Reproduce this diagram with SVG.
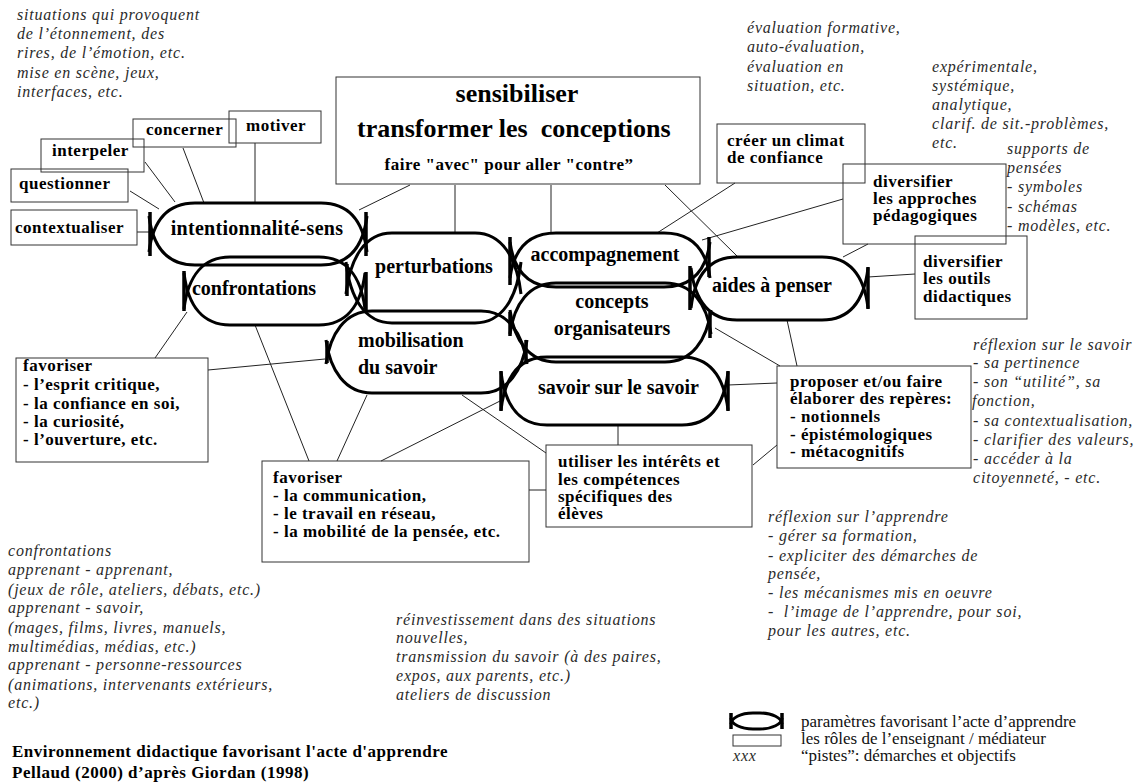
<svg xmlns="http://www.w3.org/2000/svg" width="1142" height="783" viewBox="0 0 1142 783">
<style>
.box{fill:none;stroke:#333;stroke-width:1}
.ln{fill:none;stroke:#222;stroke-width:1}
.fish{fill:none;stroke:#000;stroke-width:3}
.bar{fill:none;stroke:#000;stroke-width:3.5}
.b{font-family:"Liberation Serif","Times New Roman",serif;font-weight:bold;font-size:17px;letter-spacing:0.5px;fill:#000}
.fl{font-family:"Liberation Serif","Times New Roman",serif;font-weight:bold;font-size:20px;fill:#000}
.big{font-family:"Liberation Serif","Times New Roman",serif;font-weight:bold;font-size:26px;fill:#000}
.it{font-family:"Liberation Serif","Times New Roman",serif;font-style:italic;font-size:16px;letter-spacing:0.8px;fill:#2a2a2a}
.lg{font-family:"Liberation Serif","Times New Roman",serif;font-size:17px;fill:#111}
.pre{white-space:pre}
</style>
<rect width="1142" height="783" fill="#fff"/>

<g id="connectors">
<path class="ln" d="M255,143V203"/>
<path class="ln" d="M183,148L204,203"/>
<path class="ln" d="M145,162L175,202"/>
<path class="ln" d="M130,191L159,209"/>
<path class="ln" d="M137,232H150"/>
<path class="ln" d="M410,185L359,210"/>
<path class="ln" d="M455,185V233"/>
<path class="ln" d="M551,185V233"/>
<path class="ln" d="M665,185L738,257"/>
<path class="ln" d="M735,183L657,233"/>
<path class="ln" d="M843,199L702,240"/>
<path class="ln" d="M868,244L843,257"/>
<path class="ln" d="M915,274L868,277"/>
<path class="ln" d="M787,320L797,366"/>
<path class="ln" d="M715,328L780,366"/>
<path class="ln" d="M728,385L777,383"/>
<path class="ln" d="M753,465L777,445"/>
<path class="ln" d="M618,426V445"/>
<path class="ln" d="M462,395L546,453"/>
<path class="ln" d="M529,490H546"/>
<path class="ln" d="M502,400L381,461"/>
<path class="ln" d="M367,395L337,461"/>
<path class="ln" d="M255,325L309,461"/>
<path class="ln" d="M187,312L155,358"/>
<path class="ln" d="M208,370L325,359"/>
</g>

<g id="f-intentionnalite">
<path class="fish" d="M149,252C153,220 168,203 195,203L321,203C348,203 363,220 367,252"/>
<path class="fish" d="M149,216C153,248 168,265 195,265L321,265C348,265 363,248 367,216"/>
<path class="bar" d="M150,212V256M366,212V256"/>
<text class="fl" x="257" y="235" text-anchor="middle" letter-spacing="0.3">intentionnalité-sens</text>
</g>
<g id="f-confrontations">
<path class="fish" d="M184,309C188,276 203,257 230,257L319,257C346,257 361,276 365,309"/>
<path class="fish" d="M184,273C188,306 203,325 230,325L319,325C346,325 361,306 365,273"/>
<path class="bar" d="M184,271V311M366,272V312"/>
<text class="fl" x="254" y="295" text-anchor="middle">confrontations</text>
</g>
<g id="f-perturbations">
<path class="fish" d="M346,294C350,258 365,233 392,233L475,233C502,233 517,258 521,294"/>
<path class="fish" d="M346,262C350,298 365,323 392,323L475,323C502,323 517,298 521,262"/>
<path class="bar" d="M347,264V296"/>
<text class="fl" x="434" y="273" text-anchor="middle">perturbations</text>
</g>
<g id="f-mobilisation">
<path class="fish" d="M326,364C330,334 345,311 372,311L481,311C508,311 523,334 527,364"/>
<path class="fish" d="M326,340C330,370 345,393 372,393L481,393C508,393 523,370 527,340"/>
<path class="bar" d="M327,341V363M526,340V364"/>
<text class="fl" x="358" y="347">mobilisation</text>
<text class="fl" x="358" y="374">du savoir</text>
</g>
<g id="f-accompagnement">
<path class="fish" d="M510,278C514,248 529,233 556,233L664,233C691,233 706,248 710,278"/>
<path class="fish" d="M510,242C514,272 529,287 556,287L664,287C691,287 706,272 710,242"/>
<path class="bar" d="M510,237V285M709,237V277"/>
<text class="fl" x="605" y="261" text-anchor="middle">accompagnement</text>
</g>
<g id="f-concepts">
<path class="fish" d="M510,334C514,304 529,283 556,283L665,283C692,283 707,304 711,334"/>
<path class="fish" d="M510,310C514,340 529,362 556,362L665,362C692,362 707,340 711,310"/>
<path class="bar" d="M510,312V336M710,312V338"/>
<text class="fl" x="612" y="308" text-anchor="middle">concepts</text>
<text class="fl" x="612" y="335" text-anchor="middle">organisateurs</text>
</g>
<g id="f-savoir">
<path class="fish" d="M501,410C505,376 520,357 547,357L682,357C709,357 724,376 728,410"/>
<path class="fish" d="M501,372C505,406 520,425 547,425L682,425C709,425 724,406 728,372"/>
<path class="bar" d="M501,371V411M728,371V411"/>
<text class="fl" x="538" y="394">savoir sur le savoir</text>
</g>
<g id="f-aides">
<path class="fish" d="M691,308C695,274 710,257 737,257L822,257C849,257 864,274 868,308"/>
<path class="fish" d="M691,268C695,302 710,320 737,320L822,320C849,320 864,302 868,268"/>
<path class="bar" d="M690,266V310M868,267V309"/>
<text class="fl" x="712" y="292">aides à penser</text>
</g>

<g id="n-top">
<rect class="box" x="336" y="77" width="364" height="107"/>
<text class="big" x="517" y="102" text-anchor="middle">sensibiliser</text>
<text class="big pre" x="357" y="137">transformer les  conceptions</text>
<text class="b" x="509" y="170" text-anchor="middle" font-size="15" letter-spacing="0">faire "avec" pour aller "contre”</text>
</g>
<g id="n-motiver"><rect class="box" x="229" y="111" width="92" height="32"/><text class="b" x="246" y="131">motiver</text></g>
<g id="n-concerner"><rect class="box" x="133" y="119" width="103" height="28"/><text class="b" x="146" y="135">concerner</text></g>
<g id="n-interpeler"><rect class="box" x="41" y="139" width="103" height="33"/><text class="b" x="52" y="156">interpeler</text></g>
<g id="n-questionner"><rect class="box" x="11" y="169" width="117" height="33"/><text class="b" x="19" y="189">questionner</text></g>
<g id="n-contextualiser"><rect class="box" x="11" y="210" width="126" height="35"/><text class="b" x="15" y="233">contextualiser</text></g>
<g id="n-climat"><rect class="box" x="717" y="124" width="148" height="59"/><text class="b" x="727" y="146">créer un climat</text><text class="b" x="727" y="163">de confiance</text></g>
<g id="n-approches"><rect class="box" x="843" y="164" width="163" height="80"/><text class="b" x="873" y="187">diversifier</text><text class="b" x="873" y="204">les approches</text><text class="b" x="873" y="221">pédagogiques</text></g>
<g id="n-outils"><rect class="box" x="915" y="236" width="112" height="83"/><text class="b" x="923" y="267">diversifier</text><text class="b" x="923" y="284">les outils</text><text class="b" x="923" y="302">didactiques</text></g>
<g id="n-esprit"><rect class="box" x="16" y="358" width="192" height="104"/>
<text class="b" x="23" y="371">favoriser</text><text class="b" x="23" y="390">- l’esprit critique,</text><text class="b" x="23" y="409">- la confiance en soi,</text><text class="b" x="23" y="427">- la curiosité,</text><text class="b" x="23" y="445">- l’ouverture, etc.</text></g>
<g id="n-communication"><rect class="box" x="262" y="461" width="267" height="101"/>
<text class="b" x="273" y="483">favoriser</text><text class="b" x="273" y="501">- la communication,</text><text class="b" x="273" y="519">- le travail en réseau,</text><text class="b" x="273" y="537">- la mobilité de la pensée, etc.</text></g>
<g id="n-utiliser"><rect class="box" x="546" y="445" width="206" height="82"/>
<text class="b" x="558" y="467">utiliser les intérêts et</text><text class="b" x="558" y="485">les compétences</text><text class="b" x="558" y="502">spécifiques des</text><text class="b" x="558" y="519">élèves</text></g>
<g id="n-proposer"><rect class="box" x="777" y="366" width="194" height="102"/>
<text class="b" x="790" y="387">proposer et/ou faire</text><text class="b" x="790" y="404">élaborer des repères:</text><text class="b" x="790" y="422">- notionnels</text><text class="b" x="790" y="440">- épistémologiques</text><text class="b" x="790" y="457">- métacognitifs</text></g>

<g id="notes">
<text class="it" x="17" y="20">situations qui provoquent</text>
<text class="it" x="17" y="39">de l’étonnement, des</text>
<text class="it" x="17" y="58">rires, de l’émotion, etc.</text>
<text class="it" x="17" y="78">mise en scène, jeux,</text>
<text class="it" x="17" y="97">interfaces, etc.</text>

<text class="it" x="747" y="33">évaluation formative,</text>
<text class="it" x="747" y="52">auto-évaluation,</text>
<text class="it" x="747" y="72">évaluation en</text>
<text class="it" x="747" y="91">situation, etc.</text>

<text class="it" x="932" y="72">expérimentale,</text>
<text class="it" x="932" y="91">systémique,</text>
<text class="it" x="932" y="110">analytique,</text>
<text class="it" x="932" y="129">clarif. de sit.-problèmes,</text>
<text class="it" x="932" y="148">etc.</text>

<text class="it" x="1007" y="154">supports de</text>
<text class="it" x="1007" y="173">pensées</text>
<text class="it" x="1007" y="192">- symboles</text>
<text class="it" x="1007" y="212">- schémas</text>
<text class="it" x="1007" y="231">- modèles, etc.</text>

<text class="it" x="973" y="350">réflexion sur le savoir</text>
<text class="it" x="973" y="368">- sa pertinence</text>
<text class="it" x="973" y="387">- son “utilité”, sa</text>
<text class="it" x="972" y="406">fonction,</text>
<text class="it" x="973" y="426">- sa contextualisation,</text>
<text class="it" x="973" y="445">- clarifier des valeurs,</text>
<text class="it" x="973" y="464">- accéder à la</text>
<text class="it" x="973" y="483">citoyenneté, - etc.</text>

<text class="it" x="768" y="522">réflexion sur l’apprendre</text>
<text class="it" x="768" y="541">- gérer sa formation,</text>
<text class="it" x="768" y="561">- expliciter des démarches de</text>
<text class="it" x="768" y="579">pensée,</text>
<text class="it" x="768" y="598">- les mécanismes mis en oeuvre</text>
<text class="it pre" x="768" y="617">-  l’image de l’apprendre, pour soi,</text>
<text class="it" x="768" y="636">pour les autres, etc.</text>

<text class="it" x="396" y="625">réinvestissement dans des situations</text>
<text class="it" x="396" y="643">nouvelles,</text>
<text class="it" x="396" y="662">transmission du savoir (à des paires,</text>
<text class="it" x="396" y="681">expos, aux parents, etc.)</text>
<text class="it" x="396" y="700">ateliers de discussion</text>

<text class="it" x="8" y="556">confrontations</text>
<text class="it" x="8" y="575">apprenant - apprenant,</text>
<text class="it" x="8" y="595">(jeux de rôle, ateliers, débats, etc.)</text>
<text class="it" x="8" y="613">apprenant - savoir,</text>
<text class="it" x="8" y="633">(mages, films, livres, manuels,</text>
<text class="it" x="8" y="652">multimédias, médias, etc.)</text>
<text class="it" x="8" y="670">apprenant - personne-ressources</text>
<text class="it" x="8" y="690">(animations, intervenants extérieurs,</text>
<text class="it" x="8" y="708">etc.)</text>
</g>

<g id="caption">
<text class="b" x="12" y="757">Environnement didactique favorisant l'acte d'apprendre</text>
<text class="b" x="12" y="778">Pellaud (2000) d’après Giordan (1998)</text>
</g>

<g id="legend">
<path class="fish" d="M731,724A22,11 0 0 1 753,713L760,713A22,11 0 0 1 782,724"/>
<path class="fish" d="M731,718A22,11 0 0 0 753,729L760,729A22,11 0 0 0 782,718"/>
<path class="bar" d="M731,713V729M782,713V729" stroke-width="4"/>
<rect class="box" x="733" y="735" width="48" height="11"/>
<text class="it" x="733" y="761" letter-spacing="0">xxx</text>
<text class="lg" x="801" y="727">paramètres favorisant l’acte d’apprendre</text>
<text class="lg" x="801" y="744">les rôles de l’enseignant / médiateur</text>
<text class="lg" x="801" y="761">“pistes”: démarches et objectifs</text>
</g>
</svg>
